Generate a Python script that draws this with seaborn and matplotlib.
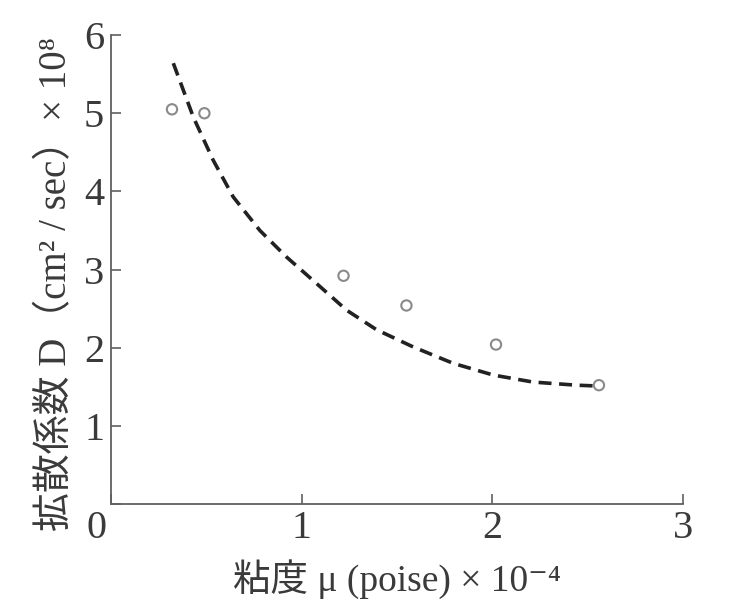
import matplotlib
matplotlib.use("Agg")
import matplotlib.pyplot as plt
import matplotlib.transforms as mtransforms
import seaborn as sns

# Measured diffusion coefficients against viscosity
viscosity = [0.32, 0.49, 1.22, 1.55, 2.02, 2.56]
diffusion = [5.05, 5.00, 2.92, 2.54, 2.04, 1.52]

# Hand-drawn trend curve through the measurements
fit_viscosity = [0.327, 0.432, 0.536, 0.641, 0.781, 0.921, 1.079, 1.236,
                 1.393, 1.585, 1.795, 2.005, 2.214, 2.442, 2.547]
fit_diffusion = [5.64, 4.95, 4.40, 3.93, 3.50, 3.16, 2.82, 2.48,
                 2.23, 2.01, 1.80, 1.65, 1.56, 1.52, 1.51]

x_ticks = [0, 1, 2, 3]
y_ticks = [0, 1, 2, 3, 4, 5, 6]
y_tick_labels = ["", "1", "2", "3", "4", "5", "6"]

sns.set_theme(style="ticks")
plt.rcParams["font.family"] = ["Liberation Serif", "DejaVu Serif", "Noto Sans CJK JP"]

ink = "#3a3a3a"
axis_grey = "#606060"

fig = plt.figure(figsize=(7.35, 6.05), dpi=100)
fig.patch.set_facecolor("white")
ax = fig.add_axes([0.151, 0.167, 0.778, 0.775])
ax.set_facecolor("white")

sns.lineplot(x=fit_viscosity, y=fit_diffusion, sort=False, ax=ax,
             color="#222222", linewidth=2.6, linestyle=(0, (3.6, 2.1)))
sns.scatterplot(x=viscosity, y=diffusion, ax=ax, marker="o", s=55,
                facecolor="none", edgecolor="#8a8a8a", linewidth=1.5,
                zorder=3)

ax.set_xlim(0, 3)
ax.set_ylim(0, 6)
ax.set_xticks(x_ticks)
ax.set_xticklabels([str(t) for t in x_ticks])
ax.set_yticks(y_ticks)
ax.set_yticklabels(y_tick_labels)

sns.despine(ax=ax)
for side in ("left", "bottom"):
    ax.spines[side].set_color(axis_grey)
    ax.spines[side].set_linewidth(1.3)

ax.tick_params(axis="both", direction="in", length=7, width=1.2,
               color=axis_grey, labelsize=29, labelcolor=ink)
ax.tick_params(axis="x", pad=4)
ax.tick_params(axis="y", pad=5)

# the shared origin label sits left of the corner
zero_label = ax.get_xticklabels()[0]
zero_label.set_transform(zero_label.get_transform() +
                         mtransforms.ScaledTranslation(-14 / 100, 0, fig.dpi_scale_trans))

ax.set_ylabel("拡散係数 D（cm² / sec）× 10⁸", fontsize=28,
              color=ink, labelpad=6)
ax.yaxis.label.set_y(0.47)
ax.set_xlabel("粘度 μ (poise) × 10⁻⁴", fontsize=27,
              color=ink, labelpad=9)

fig.savefig("out.png", dpi=100, facecolor="white")
